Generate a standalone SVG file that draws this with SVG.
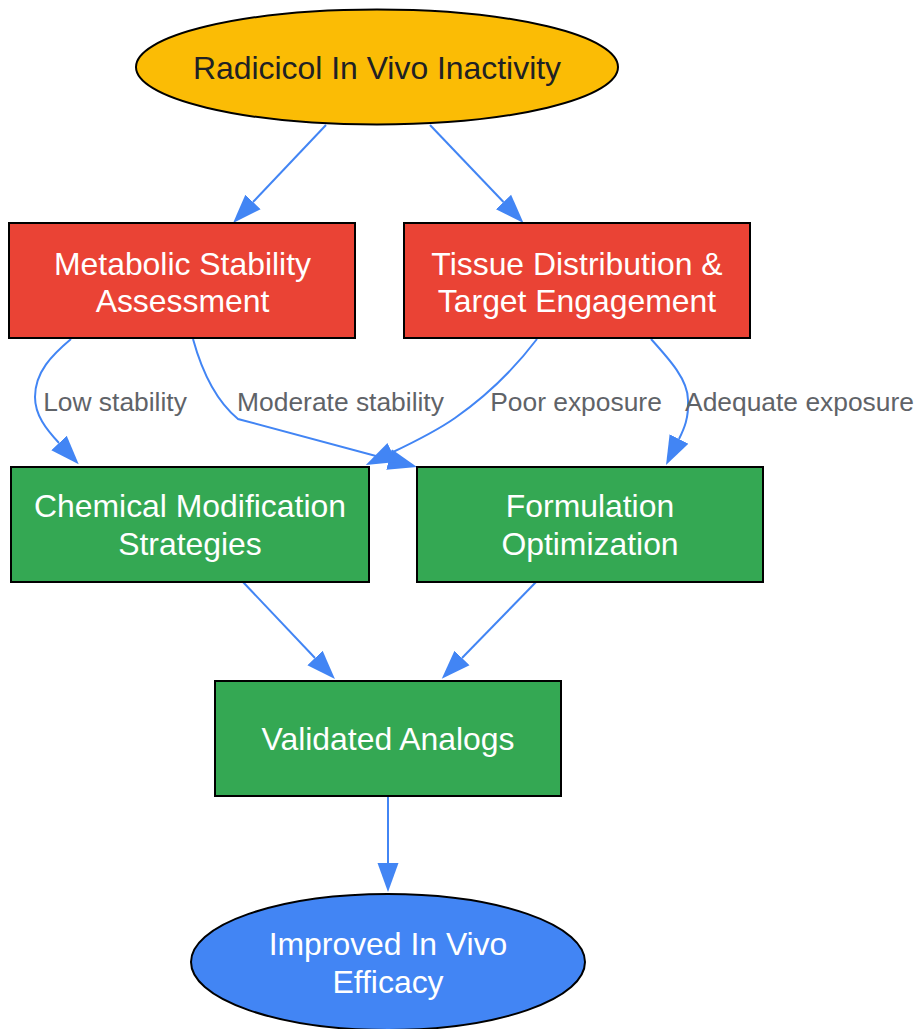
<svg xmlns="http://www.w3.org/2000/svg" width="916" height="1029" viewBox="0 0 916 1029">
<defs>
<style>
.node-shape{stroke:#000;stroke-width:2}
.red{fill:#EA4335}
.green{fill:#34A853}
.yellow{fill:#FBBC05}
.blue{fill:#4285F4}
.nt{font-family:"Liberation Sans",Arial,sans-serif;font-size:31.9px;text-anchor:middle;fill:#ffffff}
.dark{fill:#202124}
.edge{fill:none;stroke:#4285F4;stroke-width:2;marker-end:url(#arrow)}
.el{font-family:"Liberation Sans",Arial,sans-serif;font-size:26.4px;text-anchor:middle;fill:#5f6368}
</style>
<marker id="arrow" markerUnits="userSpaceOnUse" viewBox="0 -12 31 24" markerWidth="31" markerHeight="24" refX="0" refY="0" orient="auto">
<path d="M0,-10.5 L29,0 L0,10.5 Z" fill="#4285F4"/>
</marker>
</defs>
<rect width="916" height="1029" fill="#ffffff"/>
<g id="connectors">
<path class="edge" d="M326,125 L253,202"/>
<path class="edge" d="M430,125 L503.5,202"/>
<path class="edge" d="M71,339 C52,355 35,372 35,397 C35,415 46,429 59,443"/>
<path class="edge" d="M193,339 C201,368 215,400 238,419 L389,459.5"/>
<path class="edge" d="M537,339 C515,368 485,397 455,418 C435,432 412,443 392,452.5"/>
<path class="edge" d="M651,339 C670,360 688,380 688,400 C689,418 684,429 679,439"/>
<path class="edge" d="M243,582 L315,658"/>
<path class="edge" d="M536,582 L462,658"/>
<path class="edge" d="M388,797 L388,863"/>
<text class="el" x="115" y="411">Low stability</text>
<text class="el" x="340.5" y="411">Moderate stability</text>
<text class="el" x="576" y="411">Poor exposure</text>
<text class="el" x="799.5" y="411">Adequate exposure</text>
</g>
<g id="node-radicicol">
<ellipse class="node-shape yellow" cx="377" cy="67" rx="241" ry="57.5"/>
<text class="nt dark" x="377" y="78.5">Radicicol In Vivo Inactivity</text>
</g>
<g id="node-metabolic">
<rect class="node-shape red" x="9" y="223" width="346" height="115"/>
<text class="nt" x="182.5" y="274.5">Metabolic Stability</text>
<text class="nt" x="182.5" y="312">Assessment</text>
</g>
<g id="node-tissue">
<rect class="node-shape red" x="404" y="223" width="346" height="115"/>
<text class="nt" x="577" y="274.5">Tissue Distribution &amp;</text>
<text class="nt" x="577" y="312">Target Engagement</text>
</g>
<g id="node-chemical">
<rect class="node-shape green" x="11" y="467" width="358" height="115"/>
<text class="nt" x="190" y="517">Chemical Modification</text>
<text class="nt" x="190" y="555">Strategies</text>
</g>
<g id="node-formulation">
<rect class="node-shape green" x="417" y="467" width="346" height="115"/>
<text class="nt" x="590" y="517">Formulation</text>
<text class="nt" x="590" y="555">Optimization</text>
</g>
<g id="node-validated">
<rect class="node-shape green" x="215" y="681" width="346" height="115"/>
<text class="nt" x="388" y="749.5">Validated Analogs</text>
</g>
<g id="node-improved">
<ellipse class="node-shape blue" cx="388" cy="962" rx="197" ry="68"/>
<text class="nt" x="388" y="955">Improved In Vivo</text>
<text class="nt" x="388" y="993">Efficacy</text>
</g>
</svg>
